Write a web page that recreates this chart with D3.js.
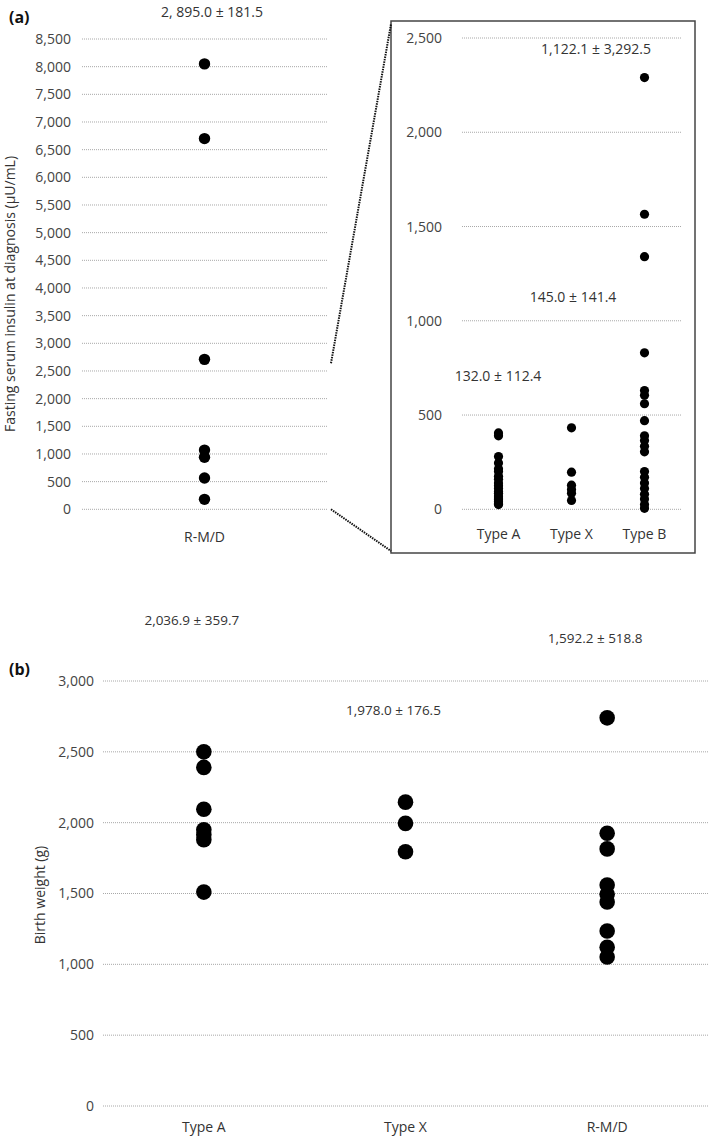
<!DOCTYPE html>
<html>
<head>
<meta charset="utf-8">
<script src="https://cdn.jsdelivr.net/npm/d3@7"></script>
<style>
  body { margin: 0; background: #fff; }
  text { font-family: "Open Sans", "Noto Sans", sans-serif; }
</style>
</head>
<body>
<svg id="chart" width="709" height="1138"></svg>
<script>
// (a) fasting insulin, R-M/D group (full scale)
var rmdCategory = ["R-M/D"]
var rmdInsulin = [8050, 6700, 2710, 1070, 940, 565, 180]
var rmdInsulinStat = "2, 895.0 \u00b1 181.5"
var mainTicks = [0, 500, 1000, 1500, 2000, 2500, 3000, 3500, 4000, 4500, 5000, 5500, 6000, 6500, 7000, 7500, 8000, 8500]

// (a) inset, other groups (zoomed scale)
var insetCategories = ["Type A", "Type X", "Type B"]
var typeAInsulin = [405, 390, 280, 245, 215, 200, 175, 160, 140, 125, 110, 95, 85, 70, 60, 50, 40, 30, 25]
var typeXInsulin = [432, 197, 128, 105, 85, 47]
var typeBInsulin = [2290, 1565, 1340, 830, 630, 605, 560, 470, 390, 365, 335, 305, 200, 170, 140, 110, 80, 55, 25, 5]
var insetStats = ["132.0 \u00b1 112.4", "145.0 \u00b1 141.4", "1,122.1 \u00b1 3,292.5"]
var insetTicks = [0, 500, 1000, 1500, 2000, 2500]

// (b) birth weight
var weightCategories = ["Type A", "Type X", "R-M/D"]
var typeAWeight = [2500, 2390, 2095, 1950, 1915, 1880, 1510]
var typeXWeight = [2145, 1995, 1795]
var rmdWeight = [2740, 1925, 1815, 1560, 1495, 1440, 1235, 1120, 1052]
var weightStats = ["2,036.9 \u00b1 359.7", "1,978.0 \u00b1 176.5", "1,592.2 \u00b1 518.8"]
var weightTicks = [0, 500, 1000, 1500, 2000, 2500, 3000]

var svg = d3.select("#chart")
var fmt = d3.format(",")
var textColor = "#333"
var gridColor = "#a8a8a8"

svg.append("rect").attr("width", 709).attr("height", 1138).attr("fill", "#fff")

function drawGrid(g, y, ticks, x0, x1) {
    g.selectAll(".grid")
        .data(ticks)
        .enter().append("line")
        .attr("class", "grid")
        .attr("x1", x0)
        .attr("x2", x1)
        .attr("y1", function (d) { return y(d); })
        .attr("y2", function (d) { return y(d); })
        .attr("stroke", gridColor)
        .attr("stroke-width", 1)
        .attr("stroke-dasharray", "1,1")
}

function drawYAxis(g, y, ticks, xPos, pad) {
    var axis = g.append("g")
        .attr("transform", "translate(" + xPos + ",0)")
        .call(d3.axisLeft(y).tickValues(ticks).tickFormat(fmt).tickSize(0).tickPadding(pad))
    axis.select(".domain").remove()
    axis.selectAll("text")
        .attr("fill", "#444")
        .attr("font-size", "14px")
        .style("font-family", "'Open Sans', 'Noto Sans', sans-serif")
}

function drawXAxis(g, x, yPos) {
    var axis = g.append("g")
        .attr("transform", "translate(0," + yPos + ")")
        .call(d3.axisBottom(x).tickSize(0).tickPadding(0))
    axis.select(".domain").remove()
    axis.selectAll("text")
        .attr("fill", textColor)
        .attr("font-size", "14px")
        .attr("dy", "0.35em")
        .style("font-family", "'Open Sans', 'Noto Sans', sans-serif")
}

function drawDots(g, x, y, cat, values, r) {
    g.selectAll(null)
        .data(values)
        .enter().append("circle")
        .attr("cx", x(cat) + x.bandwidth() / 2)
        .attr("cy", function (d) { return y(d); })
        .attr("r", r)
        .attr("fill", "#000")
}

// ---------- panel (a) main ----------
var ga = svg.append("g")
var xa = d3.scaleBand().domain(rmdCategory).range([82, 327])
var ya = d3.scaleLinear().domain([0, 8500]).range([509.3, 39])

drawGrid(ga, ya, mainTicks, 82, 327)
drawYAxis(ga, ya, mainTicks, 82, 11)
drawXAxis(ga, xa, 537)
drawDots(ga, xa, ya, "R-M/D", rmdInsulin, 5.7)

ga.append("text")
    .attr("x", 212).attr("y", 17)
    .attr("text-anchor", "middle")
    .attr("font-size", "14px")
    .attr("fill", textColor)
    .text(rmdInsulinStat)

ga.append("text")
    .attr("transform", "translate(15,294) rotate(-90)")
    .attr("text-anchor", "middle")
    .attr("font-size", "14px")
    .attr("fill", textColor)
    .text("Fasting serum insulin at diagnosis (\u00b5U/mL)")

svg.append("text")
    .attr("x", 9).attr("y", 23)
    .attr("font-size", "16px")
    .attr("font-weight", "bold")
    .attr("fill", "#111")
    .text("(a)")

// ---------- panel (a) inset ----------
var gi = svg.append("g")
var xi = d3.scaleBand().domain(insetCategories).range([462, 681])
var yi = d3.scaleLinear().domain([0, 2500]).range([509.3, 38])

gi.append("rect")
    .attr("x", 391).attr("y", 21)
    .attr("width", 304).attr("height", 532)
    .attr("fill", "none")
    .attr("stroke", "#444")
    .attr("stroke-width", 1.5)

drawGrid(gi, yi, insetTicks, 462, 681)
drawYAxis(gi, yi, insetTicks, 462, 20)
drawXAxis(gi, xi, 534)
drawDots(gi, xi, yi, "Type A", typeAInsulin, 4.6)
drawDots(gi, xi, yi, "Type X", typeXInsulin, 4.6)
drawDots(gi, xi, yi, "Type B", typeBInsulin, 4.6)

// stat labels inside the inset
var insetStatPos = [[498, 381], [573, 302], [596, 54]]
gi.selectAll(".stat")
    .data(insetStats)
    .enter().append("text")
    .attr("class", "stat")
    .attr("x", function (d, i) { return insetStatPos[i][0]; })
    .attr("y", function (d, i) { return insetStatPos[i][1]; })
    .attr("text-anchor", "middle")
    .attr("font-size", "14px")
    .attr("fill", textColor)
    .text(function (d) { return d; })

// dotted zoom lines
svg.append("line")
    .attr("x1", 331).attr("y1", ya(2640))
    .attr("x2", 391).attr("y2", 24)
    .attr("stroke", "#111").attr("stroke-width", 2)
    .attr("stroke-dasharray", "1.5,1")
svg.append("line")
    .attr("x1", 331).attr("y1", ya(0))
    .attr("x2", 391).attr("y2", 551)
    .attr("stroke", "#111").attr("stroke-width", 2)
    .attr("stroke-dasharray", "1.5,1")

// ---------- panel (b) ----------
var gb = svg.append("g")
var xb = d3.scaleBand().domain(weightCategories).range([103, 708])
var yb = d3.scaleLinear().domain([0, 3000]).range([1106, 681])

drawGrid(gb, yb, weightTicks, 103, 708)
drawYAxis(gb, yb, weightTicks, 103, 9)
drawXAxis(gb, xb, 1127)
drawDots(gb, xb, yb, "Type A", typeAWeight, 7.8)
drawDots(gb, xb, yb, "Type X", typeXWeight, 7.8)
drawDots(gb, xb, yb, "R-M/D", rmdWeight, 7.8)

var weightStatY = [625, 715, 643]
gb.selectAll(".stat")
    .data(weightStats)
    .enter().append("text")
    .attr("class", "stat")
    .attr("x", function (d, i) { return xb(weightCategories[i]) + xb.bandwidth() / 2 - 12; })
    .attr("y", function (d, i) { return weightStatY[i]; })
    .attr("text-anchor", "middle")
    .attr("font-size", "13.5px")
    .attr("fill", textColor)
    .text(function (d) { return d; })

gb.append("text")
    .attr("transform", "translate(45,895) rotate(-90)")
    .attr("text-anchor", "middle")
    .attr("font-size", "14px")
    .attr("fill", textColor)
    .text("Birth weight (g)")

svg.append("text")
    .attr("x", 9).attr("y", 675)
    .attr("font-size", "16px")
    .attr("font-weight", "bold")
    .attr("fill", "#111")
    .text("(b)")
</script>
</body>
</html>
